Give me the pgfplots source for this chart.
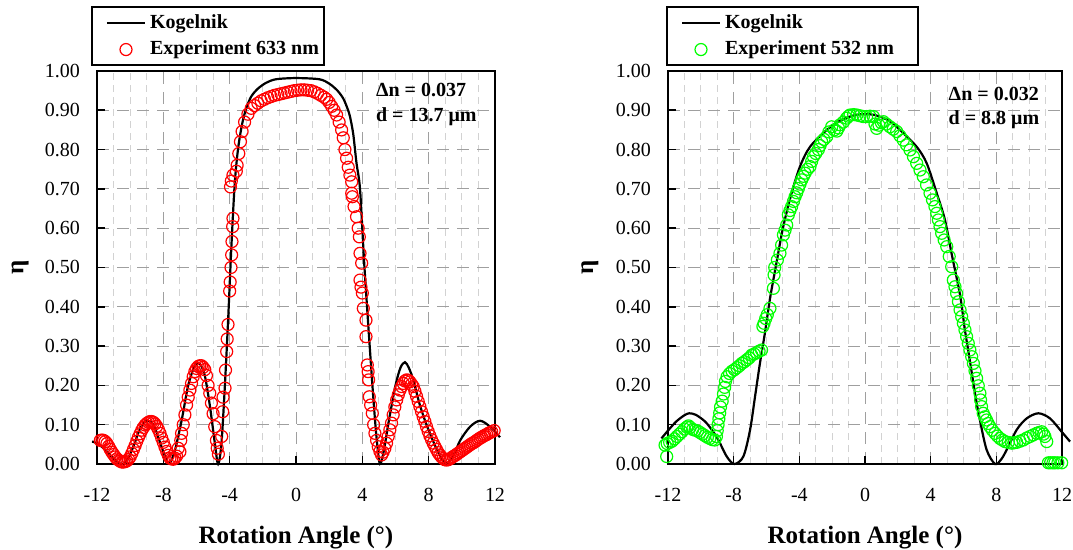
\documentclass[border=0pt]{standalone}
\usepackage{fontspec}
\setmainfont{Liberation Serif}
\usepackage{pgfplots}
\pgfplotsset{compat=1.18}
\definecolor{expred}{RGB}{255,0,0}
\definecolor{expgreen}{RGB}{0,255,0}
\tikzset{lbl/.style={font=\fontsize{12.5}{15}\selectfont\bfseries}}

\pgfplotsset{
  etaplot/.style={
    scale only axis, height=196.5pt,
    xmin=-12, xmax=12, ymin=0, ymax=1,
    xtick={-12,-8,-4,0,4,8,12},
    ytick={0,0.1,0.2,0.3,0.4,0.5,0.6,0.7,0.8,0.9,1},
    minor x tick num=3,
    grid=both,
    major grid style={gray!75, dash pattern=on 6pt off 4pt, line width=0.5pt},
    minor grid style={gray!35, dash pattern=on 3.5pt off 2.5pt, line width=0.5pt},
    axis line style={line width=1.2pt},
    tick align=inside, tick pos=left, major tick length=4pt, minor tick length=0pt,
    tick style={black, line width=0.8pt},
    /pgf/number format/assume math mode=true,
    yticklabel style={/pgf/number format/.cd, fixed, fixed zerofill, precision=2, /tikz/.cd, xshift=-5pt},
    xticklabel style={yshift=-8.5pt},
    tick label style={font=\fontsize{10}{12}\selectfont},
    xlabel={Rotation Angle (°)}, ylabel={η},
    clip=false,
    legend cell align=left,
    legend style={draw=black, line width=1pt, font=\fontsize{10}{12}\selectfont\bfseries,
      anchor=south west, inner xsep=3pt, inner ysep=1.5pt, row sep=1pt},
  },
  kog/.style={black, line width=1.1pt, smooth, tension=0.5,
    legend image code/.code={\path[draw=none] (0pt,0pt) -- (23.5pt,0pt); \draw[##1] (4.5pt,0pt) -- (23.5pt,0pt);}},
  expt/.style={only marks, mark=o, mark size=3pt, mark options={draw=#1, fill=white, line width=0.6pt},
    legend image code/.code={\path[draw=none] (0pt,0pt) -- (23.5pt,0pt); \draw[##1] plot coordinates {(14pt,0pt)};}},
}

\begin{document}
\begin{tikzpicture}
\useasboundingbox (0,0) rectangle (536.5pt,275pt);

% 633 nm
\begin{axis}[etaplot, width=199pt, at={(48.5pt,43pt)}, anchor=south west,
  every axis y label/.style={lbl, at={(axis description cs:-0.193,0.5)}, rotate=90, anchor=center},
  every axis x label/.style={lbl, at={(axis description cs:0.5,-0.186)}, anchor=center},
  legend style={at={(axis description cs:0,1)}, xshift=-3pt, yshift=2.5pt}]
\addplot[kog] coordinates {(-12.3,0.057)(-12.0,0.053)(-11.6,0.04)(-11.2,0.022)(-10.8,0.006)(-10.5,0.0)(-10.2,0.008)(-9.8,0.045)(-9.4,0.09)(-9.0,0.11)(-8.6,0.1)(-8.2,0.055)(-7.8,0.008)(-7.6,0.003)(-7.3,0.035)(-6.9,0.11)(-6.5,0.2)(-6.1,0.25)(-5.8,0.255)(-5.5,0.225)(-5.2,0.15)(-4.9,0.055)(-4.7,0.0)(-4.5,0.05)(-4.3,0.19)(-4.1,0.36)(-3.9,0.55)(-3.7,0.71)(-3.5,0.80)(-3.25,0.865)(-3.0,0.905)(-2.7,0.935)(-2.3,0.955)(-1.8,0.97)(-1.2,0.979)(0,0.982)(1.4,0.979)(2.0,0.968)(2.5,0.95)(2.85,0.93)(3.1,0.905)(3.25,0.885)(3.45,0.84)(3.65,0.765)(3.86,0.70)(4.1,0.52)(4.3,0.39)(4.46,0.29)(4.66,0.17)(4.85,0.07)(5.06,0.0)(5.3,0.035)(5.6,0.11)(6.0,0.2)(6.3,0.245)(6.57,0.259)(6.8,0.245)(7.07,0.214)(7.47,0.15)(7.87,0.1)(8.3,0.055)(8.7,0.02)(9.1,0.002)(9.5,0.022)(9.9,0.06)(10.5,0.095)(11.1,0.11)(11.7,0.095)(12.3,0.068)};
\addlegendentry{\makebox[82pt][l]{Kogelnik}}
\addplot[expt=expred] coordinates {
(-11.8,0.060)(-11.7,0.061)(-11.6,0.060)(-11.5,0.057)(-11.4,0.052)(-11.3,0.045)(-11.2,0.037)(-11.1,0.030)(-11.0,0.024)(-10.9,0.018)(-10.8,0.013)(-10.7,0.010)(-10.6,0.007)(-10.5,0.005)(-10.4,0.005)(-10.3,0.006)(-10.2,0.008)(-10.1,0.012)(-10.0,0.018)(-9.9,0.027)(-9.8,0.037)(-9.7,0.047)(-9.6,0.058)(-9.5,0.068)(-9.4,0.077)(-9.3,0.086)(-9.2,0.093)(-9.1,0.099)(-9.0,0.103)(-8.9,0.106)(-8.8,0.108)(-8.7,0.108)(-8.6,0.106)(-8.5,0.102)(-8.4,0.096)(-8.3,0.088)(-8.2,0.078)(-8.1,0.066)(-8.0,0.055)(-7.9,0.043)(-7.8,0.032)(-7.7,0.022)(-7.6,0.015)(-7.5,0.013)(-7.4,0.012)(-7.3,0.015)(-7.2,0.020)(-7.1,0.040)(-7.0,0.031)
(-6.95,0.06)(-6.9,0.078)(-6.8,0.10)(-6.7,0.125)(-6.6,0.15)(-6.5,0.17)(-6.4,0.188)(-6.3,0.205)(-6.2,0.222)(-6.1,0.235)(-6.0,0.243)(-5.9,0.248)(-5.8,0.250)(-5.7,0.250)(-5.6,0.246)(-5.5,0.240)(-5.4,0.225)(-5.3,0.200)(-5.2,0.180)(-5.1,0.155)(-5.0,0.128)(-4.9,0.095)(-4.8,0.060)(-4.75,0.040)(-4.68,0.025)
(-4.48,0.07)(-4.42,0.133)(-4.4,0.17)(-4.28,0.193)(-4.25,0.239)(-4.18,0.286)(-4.15,0.318)(-4.1,0.355)(-4.0,0.44)(-3.97,0.463)(-3.92,0.50)(-3.88,0.532)(-3.86,0.566)(-3.82,0.604)(-3.8,0.625)(-3.95,0.705)(-3.9,0.72)(-3.8,0.735)(-3.6,0.745)(-3.55,0.76)(-3.45,0.79)(-3.35,0.82)(-3.25,0.846)(-3.1,0.87)(-2.9,0.89)(-2.7,0.905)(-2.5,0.912)(-2.3,0.918)(-2.1,0.924)(-1.9,0.928)(-1.7,0.932)(-1.5,0.935)(-1.3,0.938)(-1.1,0.940)(-0.9,0.942)(-0.7,0.944)(-0.5,0.946)(-0.3,0.948)(-0.1,0.950)(0.1,0.951)(0.3,0.952)(0.5,0.952)(0.7,0.951)(0.9,0.950)(1.1,0.947)(1.3,0.943)(1.5,0.938)(1.7,0.933)(1.85,0.928)(2.0,0.92)(2.15,0.91)(2.3,0.90)(2.45,0.888)(2.6,0.87)(2.75,0.85)(2.85,0.83)(2.95,0.80)(3.05,0.778)(3.15,0.755)(3.25,0.735)(3.36,0.718)(3.36,0.689)(3.4,0.68)(3.5,0.655)(3.65,0.629)(3.75,0.60)(3.82,0.578)(3.86,0.536)(3.96,0.511)(3.86,0.468)(3.92,0.45)(4.0,0.435)(4.06,0.396)(4.22,0.366)(4.22,0.324)(4.3,0.252)(4.35,0.235)(4.38,0.214)(4.42,0.171)(4.5,0.15)(4.6,0.129)(4.68,0.10)(4.76,0.078)(4.86,0.06)(4.96,0.044)(5.06,0.032)(5.16,0.023)
(5.25,0.03)(5.36,0.04)(5.46,0.053)(5.56,0.07)(5.66,0.087)(5.76,0.104)(5.86,0.125)(5.96,0.145)(6.07,0.163)(6.17,0.176)(6.27,0.188)(6.37,0.197)(6.47,0.205)(6.57,0.211)(6.67,0.214)(6.77,0.213)(6.87,0.209)(6.97,0.203)(7.07,0.197)(7.17,0.185)(7.27,0.172)(7.37,0.159)(7.47,0.146)(7.57,0.133)(7.67,0.120)(7.77,0.108)(7.87,0.095)(7.97,0.083)(8.07,0.072)(8.17,0.062)(8.27,0.053)(8.37,0.045)(8.47,0.037)(8.57,0.029)(8.67,0.023)(8.77,0.018)(8.87,0.014)(8.97,0.011)(9.08,0.010)(9.18,0.011)(9.28,0.013)(9.38,0.016)(9.48,0.019)(9.6,0.022)(9.7,0.025)(9.8,0.028)(9.9,0.031)(10.0,0.034)(10.1,0.037)(10.2,0.040)(10.3,0.043)(10.4,0.046)(10.5,0.049)(10.6,0.052)(10.7,0.054)(10.8,0.057)(10.9,0.060)(11.0,0.063)(11.1,0.066)(11.2,0.068)(11.3,0.071)(11.4,0.073)(11.5,0.075)(11.6,0.078)(11.7,0.080)(11.8,0.082)(11.95,0.085)};
\addlegendentry{\makebox[82pt][l]{Experiment 633 nm}}
\node[anchor=base west, font=\fontsize{10}{12}\selectfont\bfseries] at (axis cs:4.4,0.935) {Δn = 0.037};
\node[anchor=base west, font=\fontsize{10}{12}\selectfont\bfseries] at (axis cs:4.4,0.871) {d = 13.7 μm};
\end{axis}

% 532 nm
\begin{axis}[etaplot, width=197pt, at={(334pt,43pt)}, anchor=south west,
  every axis y label/.style={lbl, at={(axis description cs:-0.198,0.5)}, rotate=90, anchor=center},
  every axis x label/.style={lbl, at={(axis description cs:0.5,-0.186)}, anchor=center},
  legend style={at={(axis description cs:0,1)}, xshift=-1pt, yshift=2.5pt}]
\addplot[kog] coordinates {(-12.4,0.065)(-12.0,0.085)(-11.5,0.108)(-11.0,0.124)(-10.7,0.129)(-10.3,0.125)(-9.74,0.108)(-9.3,0.085)(-8.93,0.061)(-8.42,0.019)(-7.96,0.0)(-7.41,0.019)(-7.0,0.087)(-6.7,0.171)(-6.4,0.256)(-6.09,0.335)(-5.79,0.42)(-5.4,0.51)(-5.0,0.60)(-4.5,0.685)(-3.96,0.757)(-3.35,0.807)(-2.33,0.85)(-1.5,0.874)(-0.6,0.888)(0,0.89)(0.6,0.888)(1.5,0.873)(2.13,0.85)(3.15,0.807)(3.76,0.765)(4.37,0.689)(4.87,0.621)(5.3,0.53)(5.79,0.43)(6.09,0.34)(6.4,0.26)(6.7,0.18)(7.0,0.112)(7.41,0.036)(7.92,0.0)(8.3,0.012)(8.63,0.036)(9.24,0.087)(9.85,0.116)(10.56,0.129)(11.27,0.116)(11.98,0.082)(12.49,0.057)};
\addlegendentry{\makebox[91.5pt][l]{Kogelnik}}
\addplot[expt=expgreen] coordinates {
(-12.08,0.019)(-12.18,0.048)(-12.05,0.052)(-11.9,0.055)(-11.75,0.058)(-11.6,0.064)(-11.45,0.070)(-11.3,0.076)(-11.15,0.082)(-11.0,0.089)(-10.85,0.094)(-10.75,0.097)(-10.65,0.093)(-10.5,0.088)(-10.35,0.086)(-10.2,0.084)(-10.05,0.080)(-9.9,0.076)(-9.75,0.072)(-9.6,0.068)(-9.45,0.065)(-9.3,0.062)(-9.15,0.061)(-9.05,0.07)(-9.0,0.085)(-8.95,0.10)(-8.9,0.115)(-8.85,0.13)(-8.8,0.145)(-8.7,0.16)(-8.62,0.178)(-8.55,0.195)(-8.5,0.21)(-8.4,0.222)(-8.25,0.23)(-8.1,0.236)(-7.95,0.24)(-7.8,0.245)(-7.65,0.25)(-7.5,0.256)(-7.35,0.26)(-7.2,0.265)(-7.05,0.27)(-6.9,0.277)(-6.75,0.28)(-6.6,0.283)(-6.45,0.287)(-6.3,0.29)
(-6.22,0.35)(-6.15,0.358)(-6.05,0.37)(-5.95,0.38)(-5.79,0.396)(-5.58,0.447)(-5.54,0.481)(-5.5,0.50)(-5.34,0.519)(-5.18,0.536)(-5.08,0.557)(-4.97,0.583)(-4.87,0.595)(-4.77,0.608)(-4.67,0.634)(-4.57,0.645)(-4.47,0.655)(-4.36,0.668)(-4.26,0.68)(-4.16,0.69)(-4.06,0.701)(-3.96,0.712)(-3.86,0.723)(-3.75,0.732)(-3.65,0.74)(-3.5,0.75)(-3.35,0.757)(-3.25,0.77)(-3.14,0.782)(-3.0,0.79)(-2.84,0.80)(-2.74,0.81)(-2.64,0.82)(-2.5,0.826)(-2.33,0.833)(-2.2,0.845)(-2.03,0.858)(-1.87,0.85)(-1.72,0.847)(-1.62,0.855)(-1.52,0.863)(-1.32,0.87)(-1.12,0.88)(-1.0,0.885)(-0.91,0.888)(-0.7,0.889)(-0.5,0.888)(-0.3,0.886)(-0.1,0.884)(0.1,0.884)(0.3,0.885)(0.51,0.884)(0.61,0.865)(0.71,0.854)(0.85,0.862)(1.0,0.868)(1.12,0.871)(1.3,0.865)(1.52,0.858)(1.72,0.852)(1.93,0.846)(2.13,0.835)(2.33,0.824)(2.53,0.812)(2.74,0.799)(2.95,0.782)(3.15,0.765)(3.35,0.748)(3.55,0.731)(3.75,0.71)(3.96,0.689)(4.11,0.672)(4.26,0.655)(4.37,0.638)(4.47,0.621)(4.57,0.604)(4.67,0.587)(4.82,0.57)(4.98,0.553)(5.13,0.528)(5.28,0.502)(5.38,0.468)(5.48,0.451)(5.58,0.434)(5.69,0.413)(5.79,0.392)(5.89,0.375)(5.99,0.358)(6.09,0.341)(6.19,0.324)(6.29,0.307)(6.39,0.29)(6.5,0.273)(6.6,0.256)(6.7,0.237)(6.8,0.218)(6.9,0.199)(7.0,0.18)(7.04,0.163)(7.1,0.146)(7.2,0.129)(7.3,0.12)(7.4,0.112)(7.5,0.103)(7.61,0.095)(7.76,0.086)(7.92,0.078)(8.07,0.071)(8.22,0.065)(8.37,0.061)(8.53,0.057)(8.73,0.055)(8.93,0.053)(9.08,0.054)(9.24,0.055)(9.44,0.058)(9.64,0.061)(9.85,0.066)(10.05,0.07)(10.25,0.074)(10.46,0.078)(10.6,0.08)(10.76,0.082)(10.88,0.076)(10.96,0.07)(11.07,0.057)(11.17,0.003)(11.3,0.003)(11.45,0.003)(11.57,0.003)(11.75,0.003)(11.98,0.003)};
\addlegendentry{\makebox[91.5pt][l]{Experiment 532 nm}}
\node[anchor=base west, font=\fontsize{10}{12}\selectfont\bfseries] at (axis cs:4.67,0.926) {Δn = 0.032};
\node[anchor=base west, font=\fontsize{10}{12}\selectfont\bfseries] at (axis cs:4.67,0.863) {d = 8.8 μm};
\end{axis}
\end{tikzpicture}
\end{document}
